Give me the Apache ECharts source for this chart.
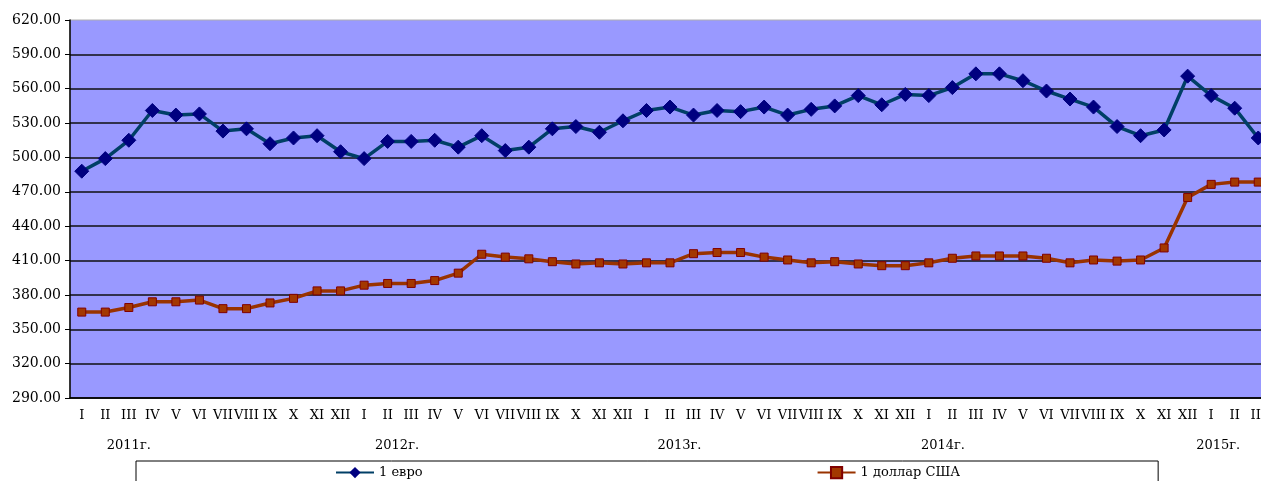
<!DOCTYPE html>
<html>
<head>
<meta charset="utf-8">
<script src="https://cdn.jsdelivr.net/npm/echarts@6/dist/echarts.min.js"></script>
<style>
  html, body { margin: 0; padding: 0; background: #fff; overflow: hidden; }
  #chart { width: 1270px; height: 481px; }
</style>
</head>
<body>
<div id="chart"></div>
<script>
// месяцы по годам (2011 I ... 2015 III)
var months = ['I','II','III','IV','V','VI','VII','VIII','IX','X','XI','XII'];
var categories = [];
for (var y = 0; y < 4; y++) categories = categories.concat(months);
categories = categories.concat(['I','II','III']);

// подписи годов и их место на оси (индекс месяца)
var yearLabels = ['2011г.', '2012г.', '2013г.', '2014г.', '2015г.'];
var yearLabelAt = [2, 13.4, 25.4, 36.6, 48.3];

// курс 1 евро
var euro = [
  488, 499, 515, 541, 537, 538, 523, 525, 512, 517, 519, 505,
  499, 514, 514, 515, 509, 519, 506, 509, 525, 527, 522, 532,
  541, 544, 537, 541, 540, 544, 537, 542, 545, 554, 546, 555,
  554, 561, 573, 573, 567, 558, 551, 544, 527, 519, 524, 571,
  554, 543, 517
];
// курс 1 доллара США
var usd = [
  365, 365, 369, 374, 374, 375.5, 368, 368, 373, 377, 383.5, 383.5,
  388.5, 390, 390, 392.5, 399, 415.5, 413, 411.5, 409, 407, 408, 407,
  408, 408, 416, 417, 417, 413, 410.5, 408, 409, 407, 405.5, 405.5,
  408, 412, 414, 414, 414, 412, 408, 410.5, 409.5, 410.5, 421, 465,
  476.5, 478.5, 478.5
];

var yMin = 290, yMax = 620, yStep = 30;
var font = 'DejaVu Serif';

var chart = echarts.init(document.getElementById('chart'));
chart.setOption({
  animation: false,
  grid: {
    left: 70, top: 20, bottom: 83, right: 0,
    show: true, backgroundColor: '#9999ff', borderColor: '#b0b0b0', borderWidth: 1
  },
  xAxis: [{
    type: 'category',
    data: categories,
    boundaryGap: true,
    axisLine: { onZero: false, lineStyle: { color: '#000', width: 1.5 } },
    axisTick: { length: 4, lineStyle: { color: '#000' } },
    axisLabel: { interval: 0, color: '#000', fontFamily: font, fontSize: 13, margin: 11 }
  }, {
    type: 'value',
    min: -0.5, max: categories.length - 0.5,
    position: 'bottom',
    axisLine: { show: false, onZero: false },
    axisTick: { show: false },
    splitLine: { show: false },
    axisLabel: {
      customValues: yearLabelAt,
      color: '#000', fontFamily: font, fontSize: 13, margin: 41,
      formatter: function (v) {
        var k = yearLabelAt.indexOf(v);
        return k >= 0 ? yearLabels[k] : '';
      }
    }
  }],
  yAxis: {
    type: 'value',
    min: yMin, max: yMax, interval: yStep,
    axisLine: { show: true, onZero: false, lineStyle: { color: '#000', width: 1.5 } },
    axisTick: { show: true, length: 5, lineStyle: { color: '#000' } },
    splitLine: { showMaxLine: false, lineStyle: { color: '#111', width: 1.5 } },
    axisLabel: {
      color: '#000', fontFamily: font, fontSize: 14, margin: 9,
      formatter: function (v) { return v.toFixed(2); }
    }
  },
  legend: {
    left: 136, top: 461,
    padding: [5, 198, 20, 199],
    itemGap: 394,
    itemWidth: 38, itemHeight: 14,
    borderColor: '#000', borderWidth: 1,
    textStyle: { color: '#000', fontFamily: font, fontSize: 13 },
    data: ['1 евро', '1 доллар США']
  },
  series: [{
    name: '1 евро',
    type: 'line',
    data: euro,
    symbol: 'diamond',
    symbolSize: 14,
    lineStyle: { color: '#003f66', width: 3.5 },
    itemStyle: { color: '#000080', borderColor: '#000080' },
    z: 3
  }, {
    name: '1 доллар США',
    type: 'line',
    data: usd,
    symbol: 'rect',
    symbolSize: 8,
    lineStyle: { color: '#993300', width: 3.5 },
    itemStyle: { color: '#a33800', borderColor: '#800000', borderWidth: 1 },
    z: 2
  }]
});
</script>
</body>
</html>
